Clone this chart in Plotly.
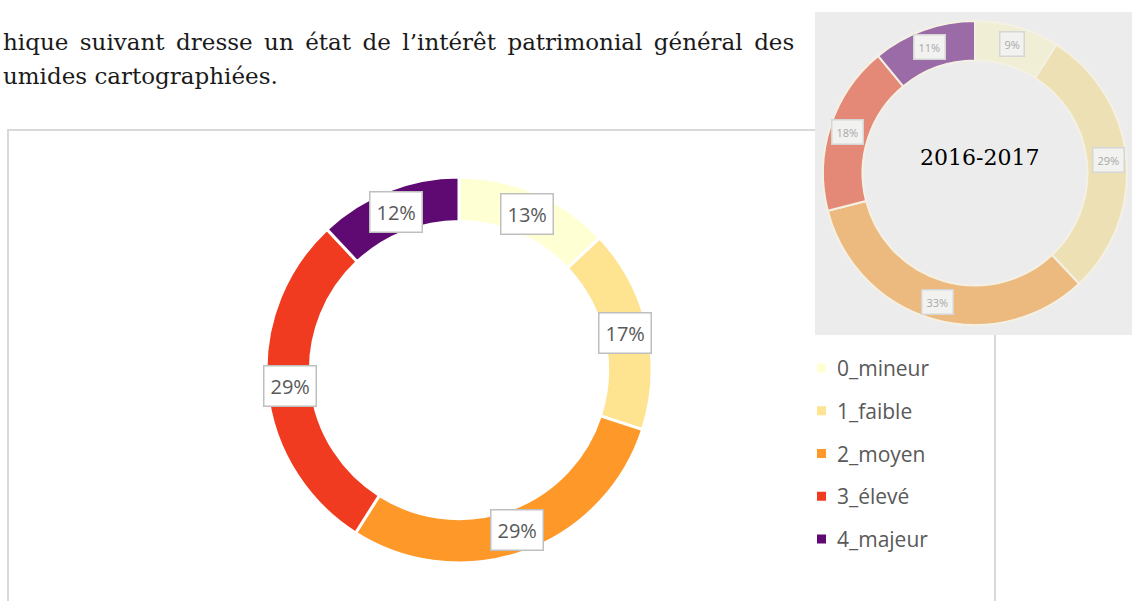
import math
import plotly.graph_objects as go

W, H = 1132, 601

# ---------------- data ----------------
categories = ["0_mineur", "1_faible", "2_moyen", "3_élevé", "4_majeur"]
values_main = [13, 17, 29, 29, 12]
values_inset = [9, 29, 33, 18, 11]
colors_main = ["#FFFFD4", "#FEE391", "#FE9929", "#F03B20", "#5F0A72"]
colors_inset = ["#F1EED6", "#EDE0B5", "#ECB97E", "#E48878", "#9B6BA7"]
inset_title = "2016-2017"
text_lines = [
    "hique suivant dresse un état de l’intérêt patrimonial général des",
    "umides cartographiées.",
]

# ---------------- layout constants (pixels) ----------------
MAIN_C, MAIN_R, MAIN_LR = (459, 370), 193, 170
INS_C, INS_R, INS_LR = (975, 173), 152, 134


def dom(c, r):
    cx, cy = c
    return dict(x=[(cx - r) / W, (cx + r) / W], y=[1 - (cy + r) / H, 1 - (cy - r) / H])


def px(x, y):
    return x / W, 1 - y / H


fig = go.Figure()

fig.add_trace(go.Pie(
    labels=categories, values=values_main, hole=0.77, sort=False,
    direction="clockwise", rotation=0, textinfo="none",
    marker=dict(colors=colors_main, line=dict(color="white", width=3)),
    domain=dom(MAIN_C, MAIN_R), showlegend=False, hoverinfo="label+percent",
))
fig.add_trace(go.Pie(
    labels=categories, values=values_inset, hole=0.74, sort=False,
    direction="clockwise", rotation=0, textinfo="none",
    marker=dict(colors=colors_inset, line=dict(color="#F4F1E4", width=2)),
    domain=dom(INS_C, INS_R), showlegend=False, hoverinfo="label+percent",
))

annotations = []
shapes = []


def slice_labels(values, c, r, font, bg, border, pad):
    total = sum(values)
    cum = 0
    for v in values:
        mid = (cum + v / 2) / total * 2 * math.pi
        cum += v
        x = c[0] + r * math.sin(mid)
        y = c[1] - r * math.cos(mid)
        xp, yp = px(x, y)
        annotations.append(dict(
            x=xp, y=yp, xref="paper", yref="paper", showarrow=False,
            text=f"{round(v / total * 100)}%", font=font,
            bgcolor=bg, bordercolor=border, borderwidth=1.5, borderpad=pad,
            xanchor="center", yanchor="middle",
        ))


slice_labels(values_main, MAIN_C, MAIN_LR,
             dict(family="Open Sans", size=20, color="#595959"),
             "white", "#BFBFBF", 6)
slice_labels(values_inset, INS_C, INS_LR,
             dict(family="Open Sans", size=11, color="#A8A8A8"),
             "#F2F2F0", "#D6D6D6", 4)

# inset centre title
annotations.append(dict(
    x=979 / W, y=1 - 157 / H, xref="paper", yref="paper", showarrow=False,
    text=inset_title, font=dict(family="DejaVu Serif", size=22, color="black"),
    xanchor="center", yanchor="middle",
))

# body text (first line justified with wider spaces)
body = [text_lines[0].replace(" ", "\u2002"), text_lines[1]]
for i, line in enumerate(body):
    annotations.append(dict(
        x=1 / W, y=1 - (42 + 34 * i) / H, xref="paper", yref="paper", showarrow=False,
        text=line, font=dict(family="DejaVu Serif", size=23, color="#1a1a1a"),
        xanchor="left", yanchor="middle",
    ))

# manual legend
for i, (cat, col) in enumerate(zip(categories, colors_main)):
    yc = 368 + i * 42.75
    x0, y0 = px(817, yc - 4.5)
    x1, y1 = px(826, yc + 4.5)
    shapes.append(dict(type="rect", xref="paper", yref="paper", x0=x0, x1=x1, y0=y1, y1=y0,
                       fillcolor=col, line=dict(width=0), layer="above"))
    annotations.append(dict(
        x=835 / W, y=1 - yc / H, xref="paper", yref="paper", showarrow=False,
        text=cat, font=dict(family="Open Sans", size=21, color="#595959"),
        xanchor="left", yanchor="middle",
    ))

# chart frame and inset background
shapes.insert(0, dict(type="rect", xref="paper", yref="paper",
                      x0=8 / W, x1=995 / W, y0=-0.1, y1=1 - 130 / H,
                      line=dict(color="#D9D9D9", width=2), fillcolor="rgba(0,0,0,0)", layer="below"))
shapes.insert(1, dict(type="rect", xref="paper", yref="paper",
                      x0=815 / W, x1=1.05, y0=1 - 335 / H, y1=1 - 12 / H,
                      line=dict(width=0), fillcolor="#ECECEC", layer="below"))

fig.update_layout(
    width=W, height=H, margin=dict(l=0, r=0, t=0, b=0),
    paper_bgcolor="white", plot_bgcolor="white",
    annotations=annotations, shapes=shapes, showlegend=False,
)

fig.write_html("out.html")
